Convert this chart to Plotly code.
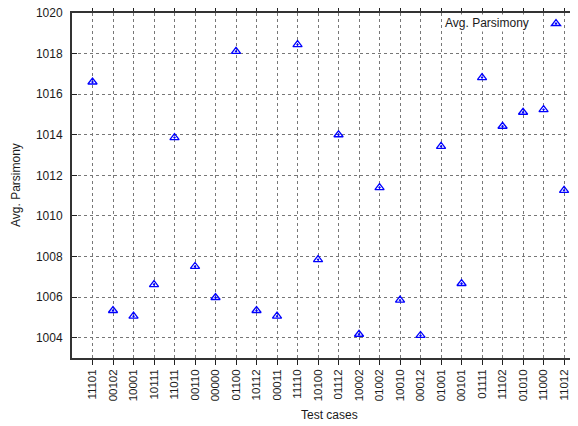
import plotly.graph_objects as go

categories = ["11101", "00102", "10001", "10111", "11011", "00110", "00000", "01100",
              "10112", "00011", "11110", "10100", "01112", "10002", "01002", "10010",
              "00012", "01001", "00101", "01111", "11102", "01010", "11000", "11012"]
avg_parsimony = [1016.6, 1005.34, 1005.06, 1006.62, 1013.86, 1007.51, 1005.98, 1018.11,
                 1005.34, 1005.06, 1018.44, 1007.85, 1014.0, 1004.17, 1011.4, 1005.85,
                 1004.11, 1013.43, 1006.67, 1016.82, 1014.42, 1015.11, 1015.24, 1011.26]
y_ticks = [1004, 1006, 1008, 1010, 1012, 1014, 1016, 1018, 1020]

FONT = "Liberation Sans, Arial, sans-serif"
TXT = "#1a1a1a"
xs = list(range(len(categories)))

# page body has an 8px margin; work in page pixels and subtract it
OFF = 8
FW, FH = 578 - OFF, 426 - OFF
L, T, W, H = 72 - OFF, 13 - OFF, 506, 345


def px(xp):
    return (xp - OFF - L) / W


def py(yp):
    return 1 - (yp - OFF - T) / H


fig = go.Figure()
fig.add_trace(go.Scatter(
    x=xs, y=avg_parsimony, mode="markers", name="",
    marker=dict(symbol="triangle-up-open-dot", size=8, color="#0000ff",
                line=dict(width=1.3, color="#0000ff")),
    showlegend=True,
))

fig.update_layout(
    width=FW, height=FH,
    margin=dict(l=L, r=FW - L - W, t=T, b=FH - T - H, autoexpand=False),
    plot_bgcolor="white", paper_bgcolor="white",
    font=dict(family=FONT, size=12, color=TXT),
    showlegend=True,
    legend=dict(x=px(536), y=py(9), xanchor="left", yanchor="top",
                bgcolor="rgba(0,0,0,0)", borderwidth=0,
                font=dict(size=12), itemwidth=30, tracegroupgap=0),
    xaxis=dict(
        range=[-1, 23.68], tickmode="array", tickvals=xs, ticktext=categories,
        tickangle=-90, ticks="outside", ticklen=5, tickcolor="#222",
        tickfont=dict(size=11.5), ticklabeloverflow="allow",
        showgrid=True, gridcolor="#777", griddash="dot", gridwidth=1,
        showline=True, linecolor="#333", linewidth=1.5, mirror="ticks",
        zeroline=False, automargin=False,
    ),
    yaxis=dict(
        range=[1003, 1020], tickmode="array", tickvals=y_ticks,
        ticks="inside", ticklen=5, tickcolor="#222",
        tickfont=dict(size=12), ticklabelstandoff=5, ticklabeloverflow="allow",
        showgrid=True, gridcolor="#777", griddash="dot", gridwidth=1,
        showline=True, linecolor="#333", linewidth=2, mirror=False,
        zeroline=False, automargin=False,
    ),
)

fig.add_annotation(
    xref="paper", yref="paper", x=px(531), y=py(23),
    xanchor="right", yanchor="middle", text="Avg. Parsimony", showarrow=False,
    bgcolor="white", font=dict(size=12, color=TXT),
)
fig.add_annotation(
    xref="paper", yref="paper", x=px(329), y=py(415),
    xanchor="center", yanchor="middle", text="Test cases", showarrow=False,
    font=dict(size=12, color=TXT),
)
fig.add_annotation(
    xref="paper", yref="paper", x=px(16), y=py(185),
    xanchor="center", yanchor="middle", text="Avg. Parsimony", showarrow=False,
    textangle=-90, font=dict(size=12, color=TXT),
)

fig.write_html("out.html")
